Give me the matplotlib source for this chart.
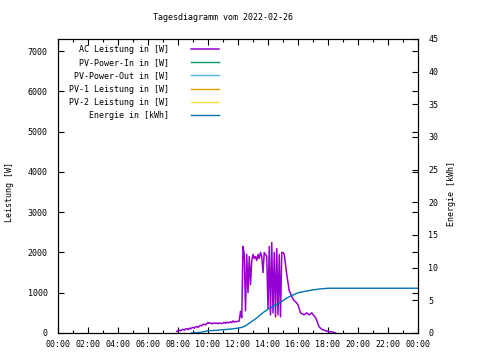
import numpy as np
import matplotlib
matplotlib.use("Agg")
import matplotlib.pyplot as plt

plt.rcParams["font.family"] = "DejaVu Sans Mono"
plt.rcParams["font.size"] = 6

title = "Tagesdiagramm vom 2022-02-26"

# AC Leistung [W], one reading every 5 minutes starting 07:55
ac_start = 7 + 55 / 60
ac_watt = [
    40, 60, 70, 55, 80, 90, 70, 100, 110, 85, 120, 100,          # 07:55-08:50
    130, 140, 120, 150, 160, 140, 170, 190, 180, 210, 220, 200,  # 08:55-09:50
    230, 260, 240, 250, 230, 240, 250, 235, 245, 230, 250, 240,  # 09:55-10:50
    235, 250, 260, 240, 270, 250, 260, 280, 260, 300, 270, 290,  # 10:55-11:50
    280, 290, 300, 540, 380, 2150, 1950, 550, 1950, 1000, 1900, 1200,  # 11:55-12:50
    1800, 1950, 1850, 1900, 1800, 1950, 1850, 2000, 1900, 1500, 2000, 1950,  # 12:55-13:50
    1900, 600, 2150, 450, 2250, 500, 2000, 400, 2100, 450, 1950, 400,  # 13:55-14:50
    2000, 2000, 1950, 1700, 1450, 1250, 1050, 980, 900, 850, 800, 780,  # 14:55-15:50
    740, 700, 600, 500, 480, 470, 450, 480, 500, 470, 450, 480,  # 15:55-16:50
    500, 460, 420, 380, 320, 220, 150, 120, 90, 80, 70, 60,      # 16:55-17:50
    40, 50, 30, 35, 20, 25, 10, 0,                               # 17:55-18:30
]

# Energie [kWh]
energy_hours = [8.9, 9.25, 9.5, 9.75, 10.0, 10.5, 11.0, 11.5, 12.0, 12.25,
                12.5, 12.75, 13.0, 13.25, 13.5, 13.75, 14.0, 14.25, 14.5,
                14.75, 15.0, 15.25, 15.5, 15.75, 16.0, 16.5, 17.0, 17.5,
                18.0, 24.0]
energy_kwh = [0.0, 0.05, 0.1, 0.2, 0.35, 0.4, 0.5, 0.6, 0.75, 0.85,
              1.1, 1.5, 1.9, 2.3, 2.8, 3.25, 3.65, 3.95, 4.3,
              4.6, 4.95, 5.35, 5.65, 5.9, 6.15, 6.4, 6.6, 6.75,
              6.85, 6.85]

x_ticks = list(range(0, 25, 2))
x_labels = ["00:00", "02:00", "04:00", "06:00", "08:00", "10:00", "12:00",
            "14:00", "16:00", "18:00", "20:00", "22:00", "00:00"]

names = ["AC Leistung in [W]", "PV-Power-In in [W]", "PV-Power-Out in [W]",
         "PV-1 Leistung in [W]", "PV-2 Leistung in [W]", "Energie in [kWh]"]
colors = ["#9400d3", "#009e73", "#56b4e9", "#e69f00", "#f0e442", "#0072b2"]

ac_hours = ac_start + np.arange(len(ac_watt)) * 5 / 60

fig = plt.figure(figsize=(4.8, 3.6), dpi=100)
ax = fig.add_axes([58 / 480, 1 - 333 / 360, 360 / 480, 294 / 360])
ax2 = ax.twinx()

handles = []
h, = ax.plot(ac_hours, ac_watt, color=colors[0], lw=1.1)
handles.append(h)
for c in colors[1:5]:
    h, = ax.plot([], [], color=c, lw=1.0)
    handles.append(h)
h, = ax2.plot(energy_hours, energy_kwh, color=colors[5], lw=1.0)
handles.append(h)

ax.set_xlim(0, 24)
ax.set_ylim(0, 7300)
ax2.set_ylim(0, 45)

ax.set_xticks(x_ticks)
ax.set_xticklabels(x_labels)
ax.set_xticks(range(0, 25), minor=True)
ax.set_yticks(range(0, 7001, 1000))
ax2.set_yticks(range(0, 46, 5))

ax.tick_params(axis="both", which="major", direction="in", length=4,
               width=0.8, top=True, right=True, pad=7.5)
ax.tick_params(axis="x", which="minor", direction="in", length=2,
               width=0.8, top=True)
ax.tick_params(axis="x", which="major", pad=5)
ax2.tick_params(axis="y", direction="in", length=4, width=0.8, pad=7.5)

for a in (ax, ax2):
    for s in a.spines.values():
        s.set_linewidth(0.8)

fig.text(223 / 480, 1 - 18 / 360, title, ha="center", va="center")
fig.text(10 / 480, 1 - 192 / 360, "Leistung [W]", rotation=90,
         ha="center", va="center")
fig.text(452 / 480, 1 - 193 / 360, "Energie [kWh]", rotation=90,
         ha="center", va="center")

fig.legend(handles, names, loc="upper right", markerfirst=False,
           frameon=False, bbox_to_anchor=(219 / 480, 1 - 45 / 360),
           borderpad=0, borderaxespad=0, handlelength=3.4,
           handletextpad=2.6, labelspacing=0.5, fontsize=6)

fig.savefig("out.png", dpi=100)
